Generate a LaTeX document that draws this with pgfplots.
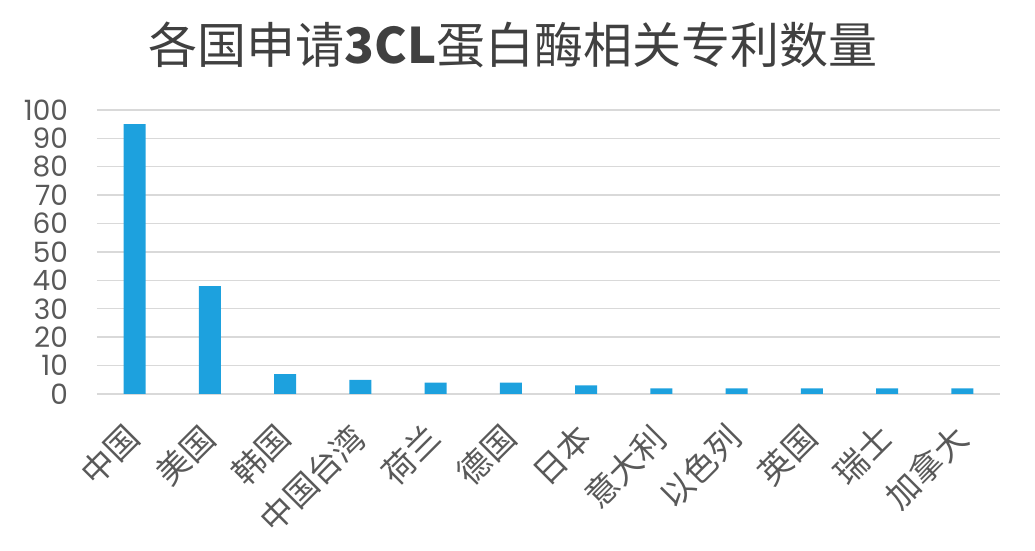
\documentclass[border=0pt]{standalone}
\usepackage{pgfplots}
\pgfplotsset{compat=1.18}
\usepackage{fontspec}
\setmainfont{Poppins}
\newfontfamily\cjk{Noto Sans CJK SC}
\definecolor{barblue}{RGB}{29,161,222}
\definecolor{gridgray}{RGB}{217,217,217}
\definecolor{textgray}{RGB}{89,89,89}
\definecolor{titlegray}{RGB}{64,64,64}
\begin{document}
\begin{tikzpicture}
\begin{axis}[
    scale only axis,
    width=451.5pt, height=142pt,
    xmin=-0.5, xmax=11.5,
    ymin=0, ymax=100,
    ytick={0,10,...,100},
    xtick=data,
    xticklabels={中国,美国,韩国,中国台湾,荷兰,德国,日本,意大利,以色列,英国,瑞士,加拿大},
    xticklabel style={xshift=-6pt, yshift=-8.5pt, rotate=45, anchor=north east,
        font=\cjk\fontsize{16.5}{18}\selectfont, text=textgray},
    yticklabel style={font=\fontsize{14}{16}\selectfont, text=textgray, xshift=-11pt},
    /pgf/number format/assume math mode=true,
    axis line style={draw=none},
    major tick length=0pt,
    ymajorgrids,
    grid style={gridgray, line width=0.7pt},
]
\addplot[ybar, bar width=11pt, fill=barblue, draw=none]
    coordinates {(0,95) (1,38) (2,7) (3,5) (4,4) (5,4) (6,3) (7,2) (8,2) (9,2) (10,2) (11,2)};
\end{axis}
\node[text=titlegray, font=\cjk\fontsize{24.5}{28}\selectfont] at (208pt,174.5pt)
    {各国申请\textbf{3CL}蛋白酶相关专利数量};
\pgfresetboundingbox
\useasboundingbox (-48.5pt,-78.5pt) rectangle (469pt,197pt);
\end{tikzpicture}
\end{document}
